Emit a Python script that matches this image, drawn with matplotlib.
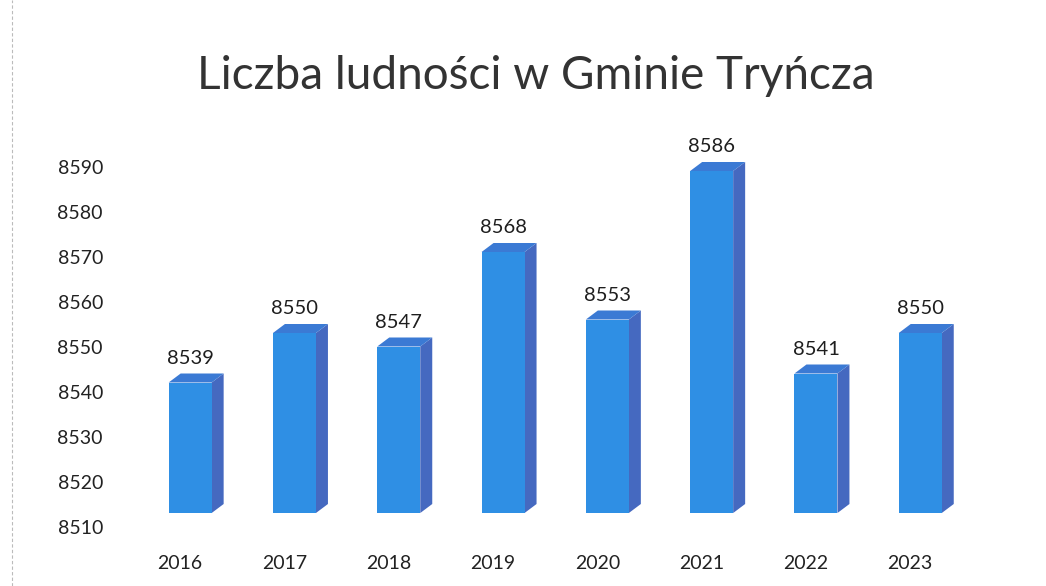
import matplotlib.pyplot as plt
from matplotlib.patches import Polygon
from matplotlib.transforms import ScaledTranslation

# Dane
lata = ["2016", "2017", "2018", "2019", "2020", "2021", "2022", "2023"]
ludnosc = [8539, 8550, 8547, 8568, 8553, 8586, 8541, 8550]
podzialka = [8510, 8520, 8530, 8540, 8550, 8560, 8570, 8580, 8590]

plt.rcParams['font.family'] = ['Lato', 'DejaVu Sans']

# Kolory słupków (przód, bok, góra)
c_przod = "#2f8fe4"
c_bok = "#4569c0"
c_gora = "#3b7ad4"

fig = plt.figure(figsize=(10.46, 5.86), dpi=100)
fig.patch.set_facecolor("white")

W, H = 1046, 586
ax = fig.add_axes([128 / W, 41 / H, 870 / W, 396 / H])
ax.set_xlim(-0.5, -0.5 + 870 / 104.3)
ax.set_ylim(8506, 8594)

# Przeliczenie pikseli na jednostki danych
px_x = 104.3
px_y = 396 / 88
dx = 12 / px_x
dy = 9 / px_y
szer = 43 / px_x
przes = 10 / px_x
podstawa = 8510

# słupki przesunięte w górę jak w wykresie 3D z Excela
tr = ax.transData + ScaledTranslation(0, 14 / 100, fig.dpi_scale_trans)

x = [i + przes for i in range(len(lata))]
ax.bar(x, [v - podstawa for v in ludnosc], bottom=podstawa, width=szer,
       color=c_przod, edgecolor="none", zorder=3, transform=tr)

for xi, v in zip(x, ludnosc):
    x0, x1 = xi - szer / 2, xi + szer / 2
    # bok
    ax.add_patch(Polygon([(x1, podstawa), (x1, v), (x1 + dx, v + dy), (x1 + dx, podstawa + dy)],
                         closed=True, facecolor=c_bok, edgecolor="none", zorder=2, transform=tr))
    # góra
    ax.add_patch(Polygon([(x0, v), (x1, v), (x1 + dx, v + dy), (x0 + dx, v + dy)],
                         closed=True, facecolor=c_gora, edgecolor="none", zorder=4, transform=tr))
    # etykieta wartości
    ax.text(xi, v + dy + 1.5, str(v), ha="center", va="bottom",
            fontsize=14.5, color="#1e1e1e", zorder=5, transform=tr)

ax.set_xticks(range(len(lata)))
ax.set_xticklabels(lata)
ax.set_yticks(podzialka)
ax.set_yticklabels([str(p) for p in podzialka])
ax.tick_params(axis="both", length=0, labelsize=14, colors="#222222")
ax.tick_params(axis="y", pad=18)
ax.tick_params(axis="x", pad=7)
for s in ax.spines.values():
    s.set_visible(False)
ax.patch.set_alpha(0)

# Tytuł
fig.text(536 / W, 1 - 76 / H, "Liczba ludności w Gminie Tryńcza",
         ha="center", va="center", fontsize=33, color="#333333")

# Ramka z lewej
fig.add_artist(plt.Line2D([12 / W, 12 / W], [0, 1], transform=fig.transFigure,
                          color="#bbbbbb", lw=0.8, ls=(0, (3, 2))))

fig.savefig("out.png", dpi=100)
